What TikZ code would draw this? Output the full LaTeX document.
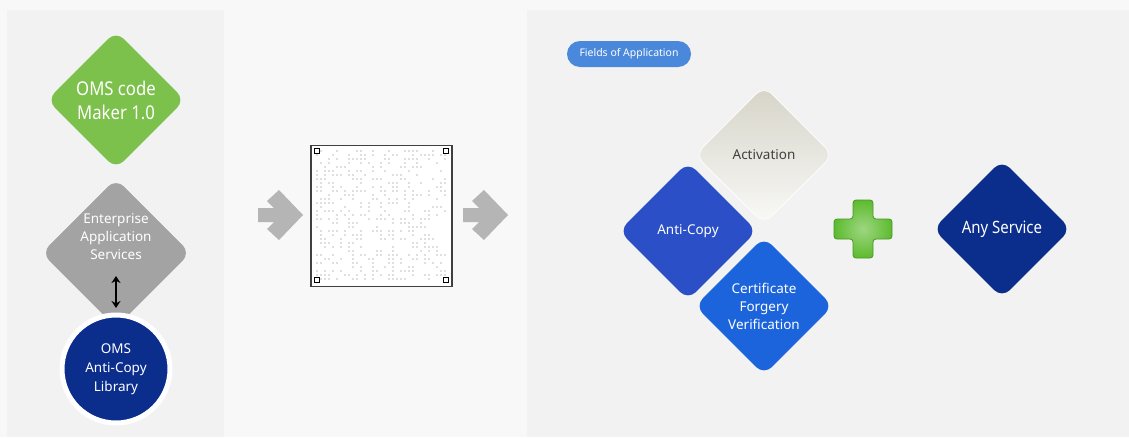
\documentclass[tikz,border=0pt]{standalone}
\usepackage{fontspec}
\setmainfont{Noto Sans}
\newfontfamily\condfont{Noto Sans}[FakeStretch=0.88]
\usetikzlibrary{arrows.meta,shapes.geometric,calc}

\definecolor{pagebg}{HTML}{F8F8F8}
\definecolor{panelbg}{HTML}{F2F2F2}
\definecolor{makergreen}{HTML}{7CC14B}
\definecolor{easgray}{HTML}{A3A3A3}
\definecolor{omsnavy}{HTML}{0B2D8C}
\definecolor{copyblue}{HTML}{2B4FC6}
\definecolor{certblue}{HTML}{1B64DB}
\definecolor{fieldsblue}{HTML}{4A88DB}
\definecolor{stepgray}{HTML}{B5B5B5}
\definecolor{plusgreen}{HTML}{5DBB2E}
\definecolor{activtop}{HTML}{D6D4C8}
\definecolor{activbottom}{HTML}{F9F9F7}

\begin{document}
\begin{tikzpicture}[x=1pt, y=-1pt, >=Stealth,
    tile/.style={diamond, aspect=1, minimum size=138pt, inner sep=0pt,
      rounded corners=11pt, align=center, text=white,
      font=\fontsize{13.5}{18}\selectfont},
    flowarrow/.style={fill=stepgray}]
    % page and panels
    \useasboundingbox (0,0) rectangle (1129,437);
    \fill[pagebg] (0,0) rectangle (1129,437);
    \fill[panelbg] (7,10) rectangle (224,437);
    \fill[panelbg] (527,10) rectangle (1129,437);

    % left column
    \node[tile, fill=makergreen, font=\condfont\fontsize{19}{24}\selectfont]
      (maker) at (116,100) {OMS code\\Maker 1.0};
    \node[tile, fill=easgray] (eas) at (116,253)
      {Enterprise\\Application\\Services\\[14pt]};
    \node[circle, fill=omsnavy, draw=white, line width=5pt, minimum size=108pt,
      inner sep=0pt, align=center, text=white, font=\fontsize{13.5}{19}\selectfont]
      (lib) at (116,369) {OMS\\Anti-Copy\\Library};
    \coordinate (linkup) at (116,276);
    \coordinate (linkdown) at (116,308);
    \draw[{Stealth[length=7pt,width=9pt]}-{Stealth[length=7pt,width=9pt]},
      line width=2.2pt] (linkup) -- (linkdown);

    % arrows round the code
    \fill[flowarrow] (258,208) -- (274,208) -- (267,201) -- (279,190) -- (303,215)
      -- (279,240) -- (267,229) -- (274,222) -- (258,222) -- cycle;
    \fill[flowarrow] (463,208) -- (479,208) -- (472,201) -- (484,190) -- (508,215)
      -- (484,240) -- (472,229) -- (479,222) -- (463,222) -- cycle;

    % code square
    \node[draw=black!75, line width=1.5pt, fill=white, minimum size=141pt,
      inner sep=0pt] (qr) at (381.5,216) {};
    \pgfmathsetseed{17}
    \foreach \i in {0,...,32} {
      \foreach \j in {0,...,32} {
        \pgfmathtruncatemacro\on{rnd<0.4}
        \ifnum\on=1
          \fill[black!25] (317+4*\i,151+4*\j) circle (0.85);
        \fi
      }
    }
    \foreach \cx/\cy in {317/151, 446/151, 317/280, 446/280} {
      \draw[black, line width=1.3pt, fill=white] (\cx-2.5,\cy-2.5) rectangle (\cx+2.5,\cy+2.5);
    }

    % fields of application
    \node[fill=fieldsblue, text=white, rounded corners=13pt, minimum width=124pt,
      minimum height=26pt, inner sep=0pt, font=\fontsize{10.5}{12}\selectfont]
      (fields) at (629,54) {Fields of Application};
    \node[tile, top color=activtop, bottom color=activbottom,
      draw=white, line width=0.6pt, text=black!75] (activ) at (764,155) {Activation};
    \node[tile, fill=copyblue] (anticopy) at (688,231) {Anti-Copy};
    \node[tile, fill=certblue] (cert) at (764,306)
      {Certificate\\Forgery\\Verification};

    % plus sign
    \path[rounded corners=3pt, draw=plusgreen!80!black, line width=0.8pt,
      inner color=plusgreen!60!white, outer color=plusgreen]
      (853,200) -- (873,200) -- (873,219) -- (892,219) -- (892,239) -- (873,239)
      -- (873,258) -- (853,258) -- (853,239) -- (834,239) -- (834,219)
      -- (853,219) -- cycle;

    \node[tile, fill=omsnavy, font=\condfont\fontsize{17}{20}\selectfont]
      (any) at (1002,229) {Any Service};
\end{tikzpicture}
\end{document}
